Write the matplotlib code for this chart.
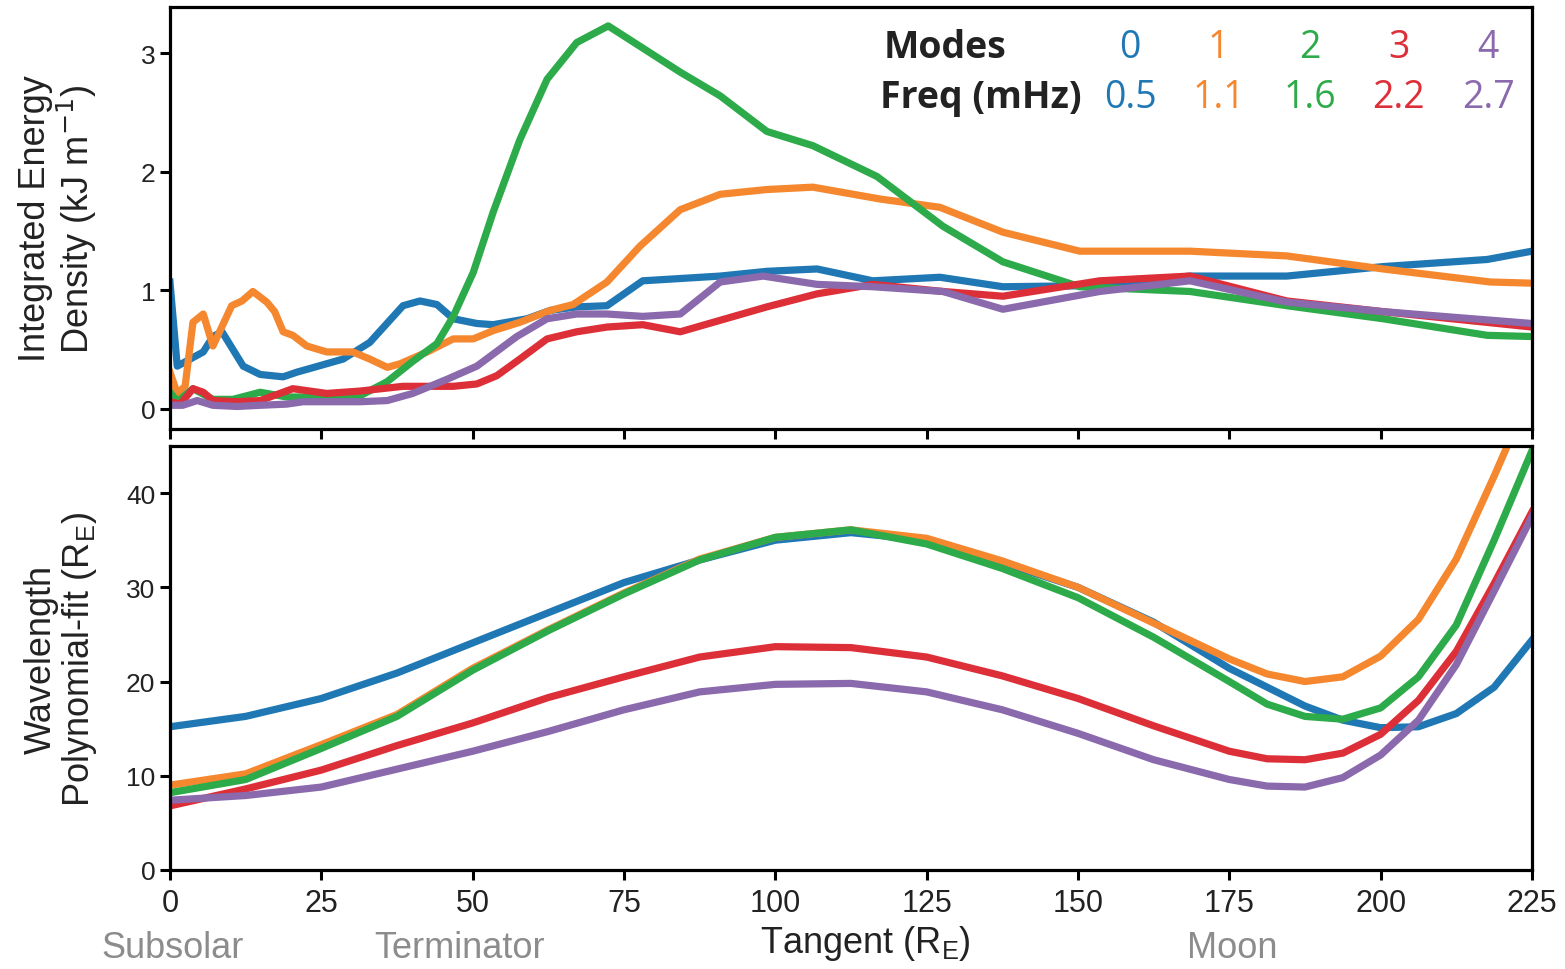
import matplotlib.pyplot as plt
import numpy as np

# --- top panel: integrated energy density (kJ/m) ---
blue_t = [0, 1.2, 5.5, 7.1, 8.6, 12.1, 14.9, 18.7, 21.0, 23.1, 28.6, 33.0, 38.5, 41.3, 44.1, 46.8,
          50.7, 53.4, 59.0, 62.8, 67.2, 72.2, 78.1, 90.9, 98.6, 106.9, 116.1, 127.2, 137.6, 153.6,
          168.5, 184.5, 200.4, 217.6, 225]
blue_e = [1.07, 0.36, 0.48, 0.61, 0.65, 0.36, 0.29, 0.27, 0.31, 0.34, 0.42, 0.56, 0.87, 0.91, 0.88, 0.76,
          0.72, 0.71, 0.76, 0.83, 0.86, 0.87, 1.08, 1.12, 1.16, 1.18, 1.08, 1.11, 1.03, 1.04,
          1.12, 1.12, 1.20, 1.26, 1.33]

orange_t = [0, 1.2, 2.5, 3.8, 5.5, 7.1, 10.2, 11.9, 13.7, 16.0, 17.3, 18.7, 20.3, 22.6, 25.9, 30.2,
            33.0, 35.9, 38.0, 42.5, 46.8, 50.1, 53.4, 57.8, 62.8, 66.6, 72.2, 77.6, 84.3, 90.9,
            98.6, 106.2, 117.3, 127.2, 137.6, 150.3, 168.5, 184.5, 200.4, 218.1, 225]
orange_e = [0.31, 0.13, 0.19, 0.73, 0.80, 0.53, 0.87, 0.91, 0.99, 0.90, 0.82, 0.65, 0.62, 0.53, 0.48, 0.48,
            0.42, 0.35, 0.38, 0.48, 0.59, 0.59, 0.66, 0.73, 0.83, 0.88, 1.07, 1.37, 1.68, 1.81,
            1.85, 1.87, 1.77, 1.70, 1.49, 1.33, 1.33, 1.29, 1.18, 1.07, 1.06]

green_t = [0, 1.2, 3.8, 7.1, 10.4, 14.9, 19.3, 25.9, 31.4, 35.9, 40.1, 44.1, 46.8, 50.1, 53.4, 57.8,
           62.3, 67.2, 72.4, 84.3, 90.9, 98.6, 106.2, 116.8, 127.7, 137.6, 150.3, 168.5, 184.5,
           200.4, 217.6, 225]
green_e = [0.14, 0.06, 0.17, 0.08, 0.08, 0.14, 0.10, 0.10, 0.11, 0.23, 0.40, 0.55, 0.78, 1.15, 1.66, 2.27,
           2.78, 3.09, 3.23, 2.84, 2.64, 2.34, 2.22, 1.96, 1.54, 1.24, 1.03, 0.99, 0.87,
           0.76, 0.62, 0.61]

red_t = [0, 1.7, 3.8, 5.5, 7.1, 11.1, 14.9, 20.3, 25.9, 31.4, 38.5, 46.8, 50.7, 54.0, 57.8, 62.3,
         67.2, 72.2, 78.1, 84.3, 98.6, 106.9, 116.1, 127.7, 137.6, 153.6, 168.5, 184.5, 200.4, 225]
red_e = [0.06, 0.04, 0.17, 0.14, 0.07, 0.06, 0.07, 0.17, 0.13, 0.15, 0.19, 0.19, 0.21, 0.28, 0.42, 0.59,
         0.65, 0.69, 0.71, 0.65, 0.86, 0.97, 1.05, 0.99, 0.95, 1.08, 1.12, 0.91, 0.82, 0.69]

purple_t = [0, 2.1, 4.5, 7.1, 11.1, 14.9, 19.3, 22.0, 31.4, 35.9, 40.1, 45.8, 50.7, 57.3, 62.3, 67.2,
            72.2, 78.1, 84.3, 90.9, 98.0, 106.9, 116.1, 127.7, 137.6, 153.6, 168.5, 184.5, 200.4, 225]
purple_e = [0.03, 0.03, 0.07, 0.03, 0.02, 0.03, 0.04, 0.06, 0.06, 0.07, 0.13, 0.25, 0.36, 0.61, 0.76, 0.80,
            0.80, 0.78, 0.80, 1.07, 1.12, 1.05, 1.03, 0.99, 0.84, 0.99, 1.08, 0.90, 0.82, 0.72]

# --- bottom panel: polynomial-fit wavelength (R_E) ---
tangent = [0, 12.5, 25, 37.5, 50, 62.5, 75, 87.5, 100, 112.5, 125, 137.5, 150, 162.5, 175,
           181.25, 187.5, 193.75, 200, 206.25, 212.5, 218.75, 225]
wl_mode0 = [15.2, 16.3, 18.2, 20.9, 24.1, 27.3, 30.5, 32.9, 35.0, 35.8, 35.0, 32.6, 30.0, 26.3, 21.4,
            19.4, 17.4, 15.9, 15.1, 15.2, 16.6, 19.4, 24.4]
wl_mode1 = [9.0, 10.2, 13.3, 16.5, 21.4, 25.5, 29.4, 33.0, 35.3, 36.1, 35.2, 32.8, 30.0, 26.2, 22.4,
            20.8, 20.0, 20.5, 22.7, 26.6, 33.0, 41.8, 51.0]
wl_mode2 = [8.2, 9.6, 12.9, 16.3, 21.2, 25.4, 29.3, 32.9, 35.3, 36.1, 34.6, 32.0, 28.9, 24.7, 20.0,
            17.6, 16.3, 16.0, 17.2, 20.5, 26.0, 35.0, 44.5]
wl_mode3 = [6.8, 8.6, 10.6, 13.2, 15.6, 18.3, 20.5, 22.6, 23.7, 23.6, 22.6, 20.6, 18.2, 15.3, 12.6,
            11.8, 11.7, 12.4, 14.4, 18.0, 23.2, 30.4, 38.0]
wl_mode4 = [7.4, 7.9, 8.8, 10.7, 12.6, 14.7, 17.0, 18.9, 19.7, 19.8, 18.9, 17.0, 14.5, 11.7, 9.6,
            8.9, 8.8, 9.8, 12.2, 15.9, 21.8, 29.6, 37.5]

modes = ["0", "1", "2", "3", "4"]
freqs = ["0.5", "1.1", "1.6", "2.2", "2.7"]
colors = ["#1f78b4", "#f5872f", "#2dab4a", "#dd2f38", "#8b69ad"]

sans = ["Liberation Sans", "DejaVu Sans"]
narrow = ["Liberation Sans Narrow", "Liberation Sans", "DejaVu Sans"]
legend_font = ["Open Sans", "DejaVu Sans"]

fig = plt.figure(figsize=(15.65, 9.70), dpi=100)
ax1 = fig.add_axes([0.1086, 0.5567, 0.8703, 0.4351])
ax2 = fig.add_axes([0.1086, 0.1021, 0.8703, 0.4371])

lw = 5.2
ax1.plot(blue_t, blue_e, color=colors[0], lw=lw)
ax1.plot(orange_t, orange_e, color=colors[1], lw=lw)
ax1.plot(green_t, green_e, color=colors[2], lw=lw)
ax1.plot(red_t, red_e, color=colors[3], lw=lw)
ax1.plot(purple_t, purple_e, color=colors[4], lw=lw)

for wl, c in zip([wl_mode0, wl_mode1, wl_mode2, wl_mode3, wl_mode4], colors):
    ax2.plot(tangent, wl, color=c, lw=lw)

ax1.set_xlim(0, 225)
ax1.set_ylim(-0.17, 3.39)
ax1.set_yticks([0, 1, 2, 3])
ax1.set_xticks(np.arange(0, 226, 25))
ax1.set_xticklabels([])

ax2.set_xlim(0, 225)
ax2.set_ylim(0, 45)
ax2.set_yticks([0, 10, 20, 30, 40])
ax2.set_xticks(np.arange(0, 226, 25))

for ax in (ax1, ax2):
    for sp in ax.spines.values():
        sp.set_linewidth(2.3)
    ax.tick_params(direction="out", length=7, width=2.2, colors="black")
    for lab in ax.get_yticklabels():
        lab.set_family(sans)
        lab.set_fontsize(19)
        lab.set_color("#222222")

ax1.tick_params(axis="x", pad=2)
ax2.tick_params(axis="x", pad=6)
for lab in ax2.get_xticklabels():
    lab.set_family(narrow)
    lab.set_fontsize(22)
    lab.set_color("#222222")

ax1.set_ylabel("Integrated Energy\nDensity (kJ m$^{-1}$)", family=sans, fontsize=26,
               color="#222222", linespacing=1.05)
ax1.yaxis.set_label_coords(-0.052, 0.5)
ax2.set_ylabel("Wavelength\nPolynomial-fit (R$_\\mathregular{E}$)", family=sans, fontsize=26,
               color="#222222", linespacing=1.05)
ax2.yaxis.set_label_coords(-0.052, 0.5)

# legend-like header
ax1.text(0.524, 0.904, "Modes", transform=ax1.transAxes, family=legend_font, fontsize=27,
         fontweight="bold", color="#222222", ha="left", va="center")
ax1.text(0.521, 0.786, "Freq (mHz)", transform=ax1.transAxes, family=legend_font, fontsize=27,
         fontweight="bold", color="#222222", ha="left", va="center")
col_x = [0.705, 0.770, 0.837, 0.902, 0.968]
for m, f, c, x in zip(modes, freqs, colors, col_x):
    ax1.text(x, 0.904, m, transform=ax1.transAxes, family=legend_font, fontsize=27,
             color=c, ha="center", va="center")
    ax1.text(x, 0.786, f, transform=ax1.transAxes, family=legend_font, fontsize=27,
             color=c, ha="center", va="center")

# x label and location markers below the axis
fig.text(865 / 1565, 1 - 944 / 970, "Tangent (R$_\\mathregular{E}$)", family=narrow, fontsize=26,
         color="#222222", ha="center", va="center")
for name, px in [("Subsolar", 173), ("Terminator", 460), ("Moon", 1232)]:
    fig.text(px / 1565, 4 / 970, name, family=narrow, fontsize=26,
             color="#8c8c8c", ha="center", va="bottom")

fig.savefig("out.png", dpi=100)
